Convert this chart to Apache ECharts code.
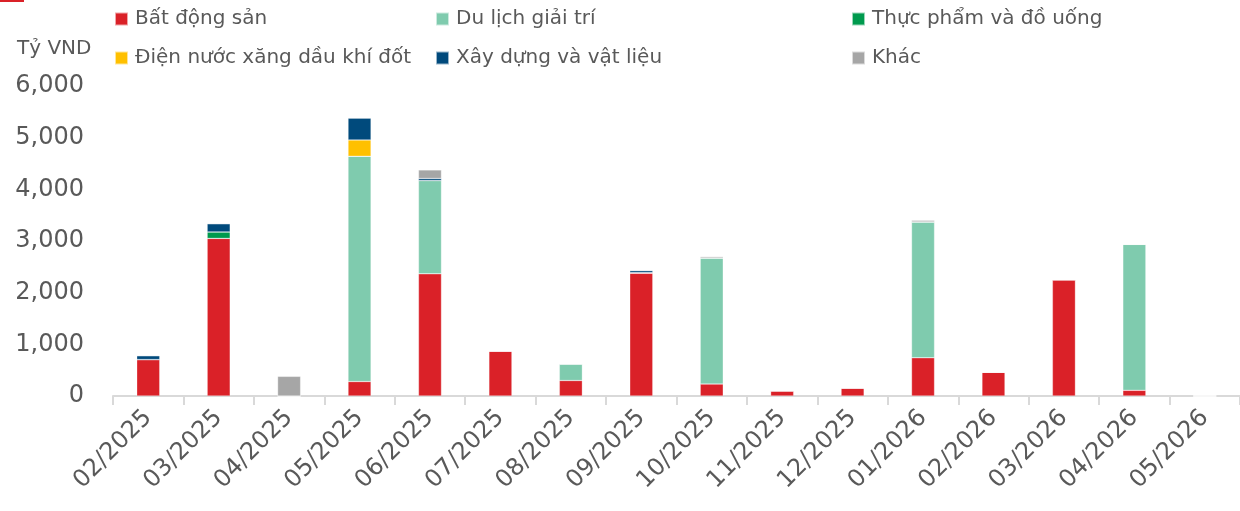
<!DOCTYPE html>
<html>
<head>
<meta charset="utf-8">
<script src="https://cdn.jsdelivr.net/npm/echarts@6/dist/echarts.min.js"></script>
<style>
  html, body { margin: 0; padding: 0; background: #fff; }
  #chart { width: 1240px; height: 511px; }
</style>
</head>
<body>
<div id="chart"></div>
<script>
// thang
const months = ["02/2025", "03/2025", "04/2025", "05/2025", "06/2025", "07/2025", "08/2025", "09/2025",
  "10/2025", "11/2025", "12/2025", "01/2026", "02/2026", "03/2026", "04/2026", "05/2026"];

// gia tri (ty VND) theo nganh
const batDongSan = [705, 3050, 0, 280, 2365, 870, 300, 2380, 232, 100, 155, 740, 460, 2250, 110, 0];
const duLich = [0, 0, 0, 4360, 1805, 0, 320, 0, 2440, 0, 0, 2630, 0, 0, 2825, 0];
const thucPham = [0, 125, 0, 0, 0, 0, 0, 0, 0, 0, 0, 0, 0, 0, 0, 0];
const dienNuoc = [0, 0, 0, 315, 0, 0, 0, 8, 0, 0, 0, 0, 0, 0, 0, 0];
const xayDung = [75, 160, 0, 425, 40, 0, 0, 40, 0, 0, 0, 0, 0, 0, 0, 0];
const khac = [0, 0, 380, 0, 165, 0, 0, 0, 25, 0, 0, 30, 0, 0, 0, 0];

const yTicks = [0, 1000, 2000, 3000, 4000, 5000, 6000];

const FONT = "DejaVu Sans";
const GREY = "#595959";

let chart = echarts.init(document.getElementById("chart"));

function bar(name, data, color) {
  return {
    name: name,
    type: "bar",
    stack: "total",
    barWidth: 23,
    data: data,
    itemStyle: { color: color, borderColor: "rgba(255,255,255,0.6)", borderWidth: 0.5 },
  };
}

let legendBase = {
  orient: "vertical",
  top: 4,
  itemGap: 19,
  itemWidth: 13,
  itemHeight: 13,
  icon: "rect",
  textStyle: { fontFamily: FONT, fontSize: 20, color: GREY, padding: [0, 0, 0, 2] },
};

let option = {
  animation: false,
  backgroundColor: "#fff",
  title: {
    text: "Tỷ VND",
    left: 12,
    top: 34,
    textStyle: { fontFamily: FONT, fontSize: 20, fontWeight: "normal", color: GREY },
  },
  graphic: [
    { type: "rect", left: 0, top: 0, shape: { width: 24, height: 2 }, style: { fill: "#DA2128" } },
  ],
  legend: [
    Object.assign({}, legendBase, { left: 109, data: ["Bất động sản", "Điện nước xăng dầu khí đốt"] }),
    Object.assign({}, legendBase, { left: 430, data: ["Du lịch giải trí", "Xây dựng và vật liệu"] }),
    Object.assign({}, legendBase, { left: 846, data: ["Thực phẩm và đồ uống", "Khác"] }),
  ],
  grid: {
    left: 113,
    top: 86,
    width: 1136,
    bottom: 115,
  },
  xAxis: {
    type: "category",
    data: months,
    axisLine: { lineStyle: { color: "#D9D9D9", width: 2 } },
    axisTick: { show: true, length: 9, lineStyle: { color: "#D9D9D9", width: 2 } },
    axisLabel: {
      rotate: 45,
      interval: 0,
      margin: 18,
      fontFamily: FONT,
      fontSize: 24,
      color: GREY,
    },
  },
  yAxis: {
    type: "value",
    min: yTicks[0],
    max: yTicks[yTicks.length - 1],
    interval: 1000,
    axisLine: { show: false },
    axisTick: { show: false },
    splitLine: { show: false },
    axisLabel: {
      margin: 29,
      fontFamily: FONT,
      fontSize: 24,
      color: GREY,
      formatter: (v) => v.toLocaleString("en-US"),
    },
  },
  series: [
    bar("Bất động sản", batDongSan, "#DA2128"),
    bar("Du lịch giải trí", duLich, "#7FCBAE"),
    bar("Thực phẩm và đồ uống", thucPham, "#009A4E"),
    bar("Điện nước xăng dầu khí đốt", dienNuoc, "#FFC000"),
    bar("Xây dựng và vật liệu", xayDung, "#004A7C"),
    bar("Khác", khac, "#A6A6A6"),
  ],
};

chart.setOption(option);
</script>
</body>
</html>
